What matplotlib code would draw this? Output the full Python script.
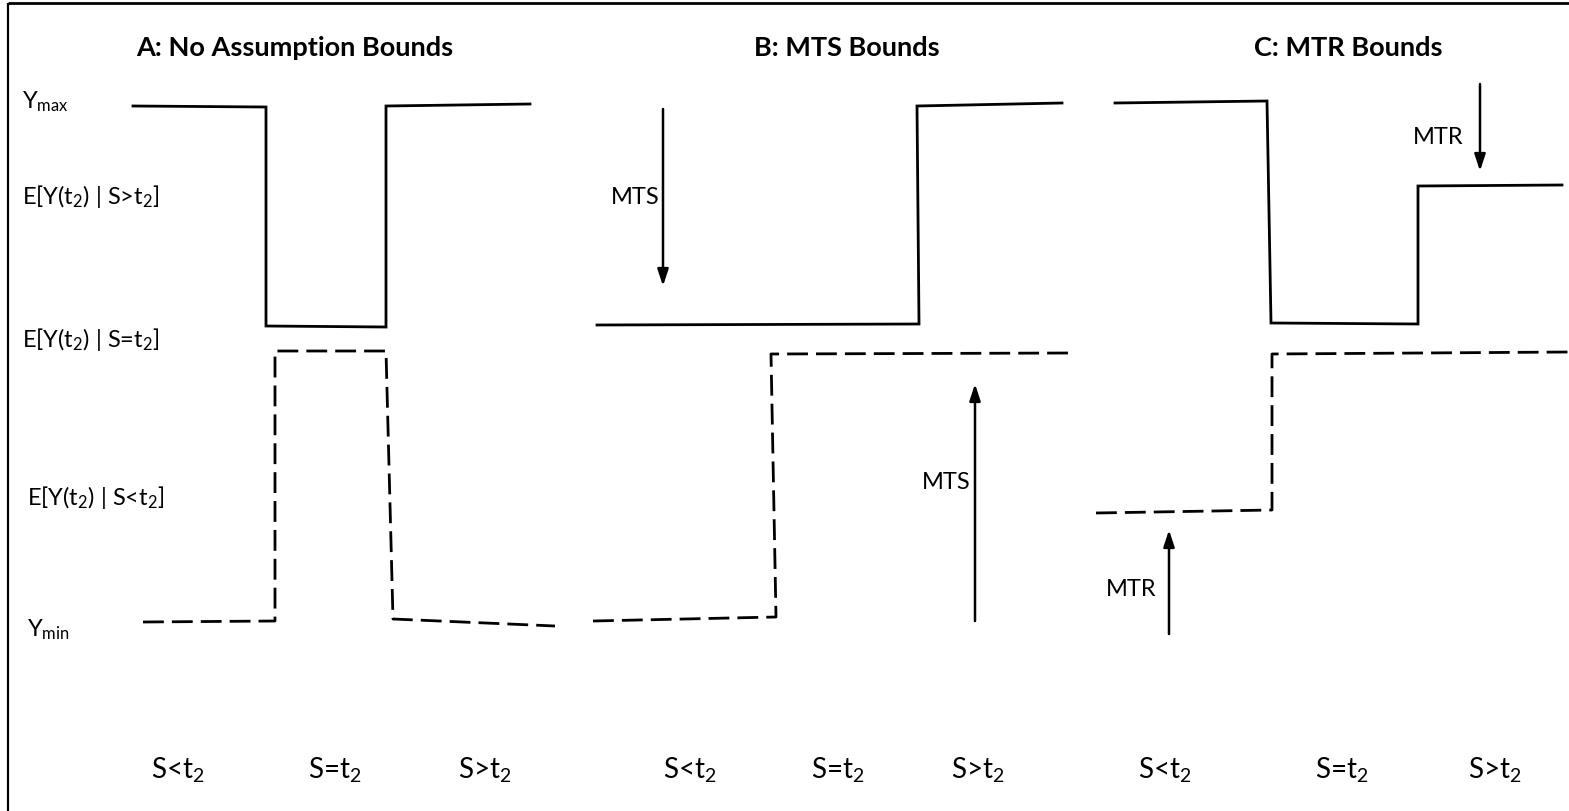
import matplotlib
matplotlib.use("Agg")
import matplotlib.pyplot as plt

plt.rcParams['font.family'] = ['Lato', 'DejaVu Sans']
plt.rcParams['mathtext.fontset'] = 'custom'
plt.rcParams['mathtext.rm'] = 'Lato'
plt.rcParams['mathtext.it'] = 'Lato'

# ---- data (diagram units: x across, y downward) ----
panel_titles = ["A: No Assumption Bounds", "B: MTS Bounds", "C: MTR Bounds"]
title_x = [295, 847, 1348]

level_labels = ["Y$_{max}$", "E[Y(t$_2$) | S>t$_2$]", "E[Y(t$_2$) | S=t$_2$]",
                "E[Y(t$_2$) | S<t$_2$]", "Y$_{min}$"]
level_label_x = [22, 22, 22, 27, 27]
level_label_y = [102, 197, 340, 498, 630]

cat_labels = ["S<t$_2$", "S=t$_2$", "S>t$_2$"]
cat_x = [178, 335, 485, 690, 838, 978, 1165, 1342, 1495]

# upper bounds (solid)
A_upper_x = [133, 266, 266, 386, 386, 530]
A_upper_y = [107, 108, 327, 328, 107, 105]
B_upper_x = [597, 919, 917, 1062]
B_upper_y = [326, 325, 107, 104]
C_upper_x = [1115, 1267, 1271, 1418, 1418, 1562]
C_upper_y = [104, 102, 324, 325, 187, 186]

# lower bounds (dashed)
A_lower_x = [143, 275, 275, 386, 393, 555]
A_lower_y = [623, 622, 352, 352, 620, 627]
B_lower_x = [593, 776, 771, 1070]
B_lower_y = [622, 618, 355, 354]
C_lower_x = [1096, 1272, 1272, 1569]
C_lower_y = [514, 511, 355, 353]

# arrows
arrow_x = [663, 975, 1480, 1169]
arrow_from = [110, 622, 85, 635]
arrow_to = [287, 385, 172, 531]
arrow_text = ["MTS", "MTS", "MTR", "MTR"]
arrow_text_x = [611, 922, 1413, 1106]
arrow_text_y = [198, 483, 137, 590]

fig = plt.figure(figsize=(15.69, 8.12), dpi=100)
ax = fig.add_axes([0, 0, 1, 1])
ax.set_xlim(0, 1569)
ax.set_ylim(812, 0)
ax.axis('off')

# frame
ax.plot([8, 1569], [4, 4], color='black', lw=2.0, solid_capstyle='butt')
ax.plot([8, 8], [4, 812], color='black', lw=1.6, solid_capstyle='butt')

lw = 2.0
for xs, ys in [(A_upper_x, A_upper_y), (B_upper_x, B_upper_y), (C_upper_x, C_upper_y)]:
    ax.plot(xs, ys, color='black', lw=lw, solid_joinstyle='miter')
for xs, ys in [(A_lower_x, A_lower_y), (B_lower_x, B_lower_y), (C_lower_x, C_lower_y)]:
    ax.plot(xs, ys, color='black', lw=lw, dashes=(7.5, 2.9))

for x, y0, y1 in zip(arrow_x, arrow_from, arrow_to):
    ax.annotate("", xy=(x, y1), xytext=(x, y0),
                arrowprops=dict(arrowstyle='-|>,head_length=1.0,head_width=0.33',
                                color='black', lw=1.8, shrinkA=0, shrinkB=0))
for t, x, y in zip(arrow_text, arrow_text_x, arrow_text_y):
    ax.text(x, y, t, fontsize=17, ha='left', va='center')

for t, x in zip(panel_titles, title_x):
    ax.text(x, 48, t, fontsize=19.5, fontweight='bold', ha='center', va='center')

for t, x, y in zip(level_labels, level_label_x, level_label_y):
    ax.text(x, y, t, fontsize=17, ha='left', va='center')

for i, x in enumerate(cat_x):
    ax.text(x, 770, cat_labels[i % 3], fontsize=20, ha='center', va='center')

fig.savefig("out.png", dpi=100)
